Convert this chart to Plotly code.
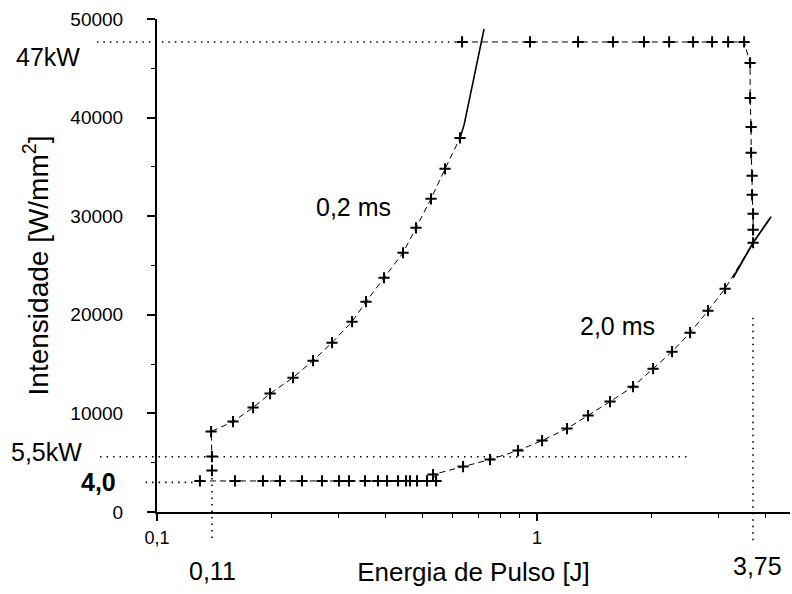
import math
import plotly.graph_objects as go

# ---------------- data ----------------
# 0.2 ms curve (measured points)
e_02 = [0.1395, 0.1395, 0.1388, 0.1585, 0.179, 0.1984, 0.228, 0.2574, 0.2887,
        0.326, 0.3548, 0.3957, 0.444, 0.4804, 0.526, 0.5727, 0.6272]
i_02 = [4205, 5623, 8156, 9169, 10588, 12006, 13627, 15350, 17173,
        19301, 21327, 23759, 26292, 28825, 31763, 34802, 37943]
# 0.2 ms fitted (solid) extension
e_02_fit = [0.6272, 0.6427, 0.6829, 0.7253]
i_02_fit = [37943, 39260, 44124, 48987]

# 2.0 ms curve (measured points, in drawing order)
e_20 = [0.1297, 0.1604, 0.19, 0.2107, 0.2407, 0.2718, 0.3013, 0.3201, 0.3527,
        0.3815, 0.403, 0.4307, 0.4522, 0.4632, 0.4833, 0.5135, 0.5424,
        0.5325, 0.6388, 0.7521, 0.8913, 1.031, 1.199, 1.362, 1.556, 1.789,
        2.02, 2.266, 2.527, 2.818, 3.124, 3.702, 3.702, 3.702, 3.68, 3.68,
        3.658, 3.658, 3.636, 3.636, 3.506, 3.182, 2.888, 2.574, 2.226,
        1.912, 1.585, 1.282, 0.958, 0.635]
i_20 = [3150, 3150, 3150, 3150, 3150, 3150, 3150, 3150, 3150,
        3150, 3150, 3150, 3150, 3150, 3150, 3150, 3150,
        3800, 4610, 5320, 6230, 7244, 8460, 9777, 11196, 12715,
        14539, 16261, 18186, 20415, 22644, 27305, 28622, 30243, 32168, 34093,
        36424, 39058, 41996, 45542, 47670, 47670, 47670, 47670, 47670,
        47670, 47670, 47670, 47670, 47670]
# 2.0 ms fitted (solid) extension
e_20_fit = [3.279, 3.483, 3.702, 4.128]
i_20_fit = [23759, 25582, 27305, 29939]

# reference levels
lvl_47 = 47670
lvl_55 = 5600
lvl_40 = 3000
e_011 = 0.1395
e_375 = 3.70

x_ticks = [0.1, 1]
x_ticktext = ["0,1", "1"]
x_minor = [0.2, 0.3, 0.4, 0.5, 0.6, 0.7, 0.8, 0.9, 2, 3, 4]
y_ticks = [0, 10000, 20000, 30000, 40000, 50000]
y_minor = [5000, 15000, 25000, 35000, 45000]

XMIN, XMAX = -1.0, math.log10(4.63)
YMAX = 50000.0


def xp(v):
    return (math.log10(v) - XMIN) / (XMAX - XMIN)


def yp(v):
    return v / YMAX


FONT = "Liberation Sans, Arial, sans-serif"
BLACK = "#000000"

fig = go.Figure()

marker = dict(symbol="cross-thin", size=8, line=dict(color=BLACK, width=2), color=BLACK)

fig.add_trace(go.Scatter(x=e_02, y=i_02, mode="lines+markers",
                         line=dict(color=BLACK, width=1, dash="6px,4px"),
                         marker=marker, showlegend=False))
fig.add_trace(go.Scatter(x=e_02_fit, y=i_02_fit, mode="lines",
                         line=dict(color=BLACK, width=1.6), showlegend=False))
fig.add_trace(go.Scatter(x=e_20, y=i_20, mode="lines+markers",
                         line=dict(color=BLACK, width=1, dash="6px,4px"),
                         marker=marker, showlegend=False))
fig.add_trace(go.Scatter(x=e_20_fit, y=i_20_fit, mode="lines",
                         line=dict(color=BLACK, width=1.8), showlegend=False))

dot = dict(color=BLACK, width=1.6, dash="1.5px,5px")
shapes = [
    dict(type="line", xref="paper", yref="y", x0=-0.095, x1=xp(0.615), y0=lvl_47, y1=lvl_47, line=dot),
    dict(type="line", xref="paper", yref="y", x0=-0.09, x1=xp(2.5), y0=lvl_55, y1=lvl_55, line=dot),
    dict(type="line", xref="paper", yref="y", x0=-0.018, x1=xp(0.124), y0=lvl_40, y1=lvl_40, line=dot),
    dict(type="line", xref="paper", yref="paper", x0=xp(e_011), x1=xp(e_011), y0=yp(4100), y1=-0.06, line=dot),
    dict(type="line", xref="paper", yref="paper", x0=xp(e_375), x1=xp(e_375), y0=yp(19700), y1=-0.06, line=dot),
]

ann_font = dict(family=FONT, size=25, color=BLACK)
annotations = [
    dict(text="47kW", x=-0.172, y=0.923),
    dict(text="5,5kW", x=-0.174, y=0.121),
    dict(text="<b>4,0</b>", x=-0.092, y=0.060),
    dict(text="0,11", x=0.087, y=-0.119),
    dict(text="3,75", x=0.948, y=-0.110),
    dict(text="0,2 ms", x=0.311, y=0.619),
    dict(text="2,0 ms", x=0.727, y=0.378),
]
for a in annotations:
    a.update(xref="paper", yref="paper", showarrow=False, font=ann_font,
             xanchor="center", yanchor="middle")

fig.update_layout(
    width=792, height=594,
    margin=dict(l=157, r=2, t=19, b=82),
    paper_bgcolor="white", plot_bgcolor="white",
    font=dict(family=FONT, color=BLACK),
    shapes=shapes, annotations=annotations,
    showlegend=False,
)

fig.update_xaxes(
    type="log", range=[XMIN, XMAX],
    tickvals=x_ticks, ticktext=x_ticktext,
    ticks="outside", ticklen=7, tickwidth=1.5, tickcolor=BLACK,
    minor=dict(tickvals=x_minor, ticks="outside", ticklen=4, tickwidth=1.2, tickcolor=BLACK, showgrid=False),
    showline=True, linecolor=BLACK, linewidth=2,
    showgrid=False, zeroline=False, mirror=False,
    tickfont=dict(family=FONT, size=18, color=BLACK),
    ticklabelstandoff=1,
    title=dict(text="Energia de Pulso [J]", font=dict(family=FONT, size=26, color=BLACK), standoff=16),
)
fig.update_yaxes(
    range=[0, YMAX],
    tickvals=y_ticks, ticktext=[str(v) for v in y_ticks],
    ticks="outside", ticklen=8, tickwidth=1.5, tickcolor=BLACK,
    minor=dict(tickvals=y_minor, ticks="outside", ticklen=4, tickwidth=1.2, tickcolor=BLACK, showgrid=False),
    showline=True, linecolor=BLACK, linewidth=2,
    showgrid=False, zeroline=False, mirror=False,
    tickfont=dict(family=FONT, size=19, color=BLACK),
    ticklabelstandoff=20,
    title=dict(text="Intensidade [W/mm<sup>2</sup>]", font=dict(family=FONT, size=28, color=BLACK), standoff=14),
)

fig.write_html("out.html")
